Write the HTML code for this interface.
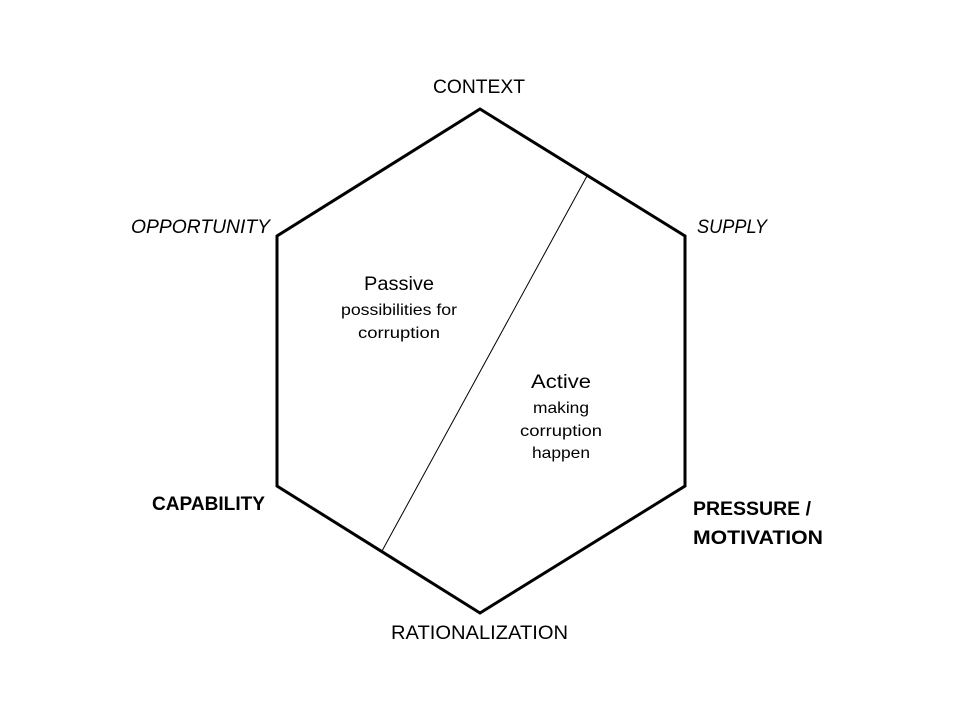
<!DOCTYPE html>
<html><head><meta charset="utf-8"><style>
html,body{margin:0;padding:0;background:#fff;width:960px;height:720px;overflow:hidden}
text{font-family:"Liberation Sans",sans-serif;fill:#000}
</style></head><body>
<svg width="960" height="720" xmlns="http://www.w3.org/2000/svg">
<polygon points="480,109 685,236 685,486 480,613 277,486 277,236" fill="none" stroke="#000" stroke-width="3" stroke-linejoin="miter"/>
<line x1="587" y1="176" x2="382" y2="551" stroke="#000" stroke-width="1"/>
<text x="433" y="93" font-size="19" textLength="92" lengthAdjust="spacingAndGlyphs">CONTEXT</text>
<text x="131" y="233" font-size="19" font-style="italic" textLength="139" lengthAdjust="spacingAndGlyphs">OPPORTUNITY</text>
<text x="697" y="233" font-size="19" font-style="italic" textLength="70" lengthAdjust="spacingAndGlyphs">SUPPLY</text>
<text x="152" y="510" font-size="19" font-weight="bold" textLength="113" lengthAdjust="spacingAndGlyphs">CAPABILITY</text>
<text x="693" y="515" font-size="19" font-weight="bold" textLength="118" lengthAdjust="spacingAndGlyphs">PRESSURE /</text>
<text x="693" y="544" font-size="19" font-weight="bold" textLength="130" lengthAdjust="spacingAndGlyphs">MOTIVATION</text>
<text x="391" y="639" font-size="19" textLength="177" lengthAdjust="spacingAndGlyphs">RATIONALIZATION</text>
<text x="364" y="290" font-size="19" textLength="70" lengthAdjust="spacingAndGlyphs">Passive</text>
<text x="341" y="315" font-size="16" textLength="116" lengthAdjust="spacingAndGlyphs">possibilities for</text>
<text x="358" y="338" font-size="16" textLength="82" lengthAdjust="spacingAndGlyphs">corruption</text>
<text x="531" y="388" font-size="19" textLength="60" lengthAdjust="spacingAndGlyphs">Active</text>
<text x="533" y="413" font-size="16" textLength="56" lengthAdjust="spacingAndGlyphs">making</text>
<text x="520" y="436" font-size="16" textLength="82" lengthAdjust="spacingAndGlyphs">corruption</text>
<text x="532" y="458" font-size="16" textLength="58" lengthAdjust="spacingAndGlyphs">happen</text>
</svg>
</body></html>
